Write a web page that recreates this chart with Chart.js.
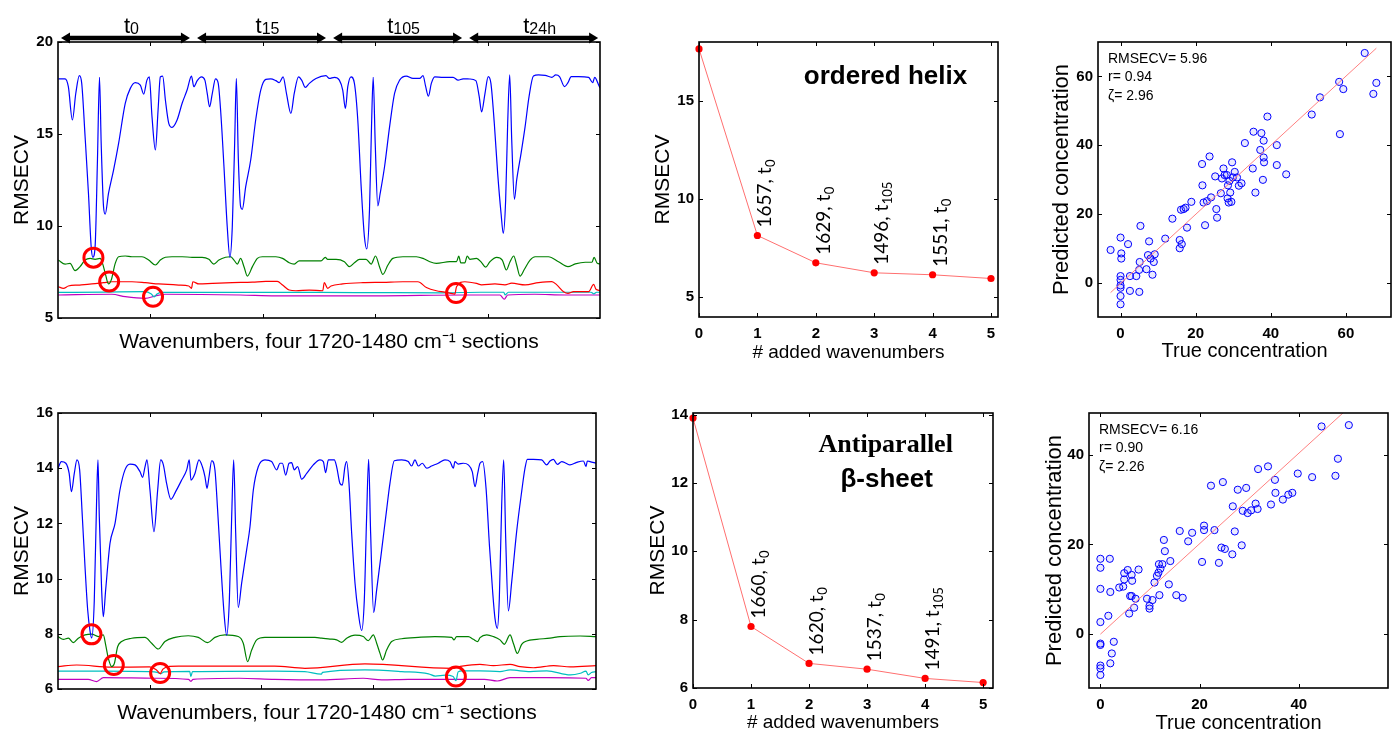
<!DOCTYPE html>
<html>
<head>
<meta charset="utf-8">
<title>RMSECV wavenumber selection</title>
<script src="https://cdn.jsdelivr.net/npm/chart.js@4.4.1/dist/chart.umd.min.js"></script>
<style>
  html, body { margin: 0; padding: 0; background: #fff; }
  body { position: relative; width: 1392px; height: 733px; overflow: hidden; }
  canvas { position: absolute; }
</style>
</head>
<body>
<canvas id="helixScan" width="606" height="360" style="left:0;top:0"></canvas>
<canvas id="sheetScan" width="602" height="343" style="left:0;top:390px"></canvas>
<canvas id="helixSteps" width="364" height="365" style="left:640px;top:0"></canvas>
<canvas id="sheetSteps" width="363" height="343" style="left:636px;top:390px"></canvas>
<canvas id="helixFit" width="352" height="365" style="left:1040px;top:0"></canvas>
<canvas id="sheetFit" width="362" height="343" style="left:1030px;top:390px"></canvas>
<script>
// four concatenated 1720-1480 cm-1 sections, 2 cm-1 steps, indexed along x
const SECTION_START = [18, 139, 260, 381];
const SECTION_POINTS = 121;
const sectionTimes = ['0', '15', '105', '24h'];
const wnIndex = (wn, sec) => SECTION_START[sec] + (1720 - wn) / 2;

// ---- ordered helix: RMSECV vs added wavenumber, one curve per selection round
const helixScan1 = [[18.3,18.0],[24.3,18.0],[27.2,17.57],[30.8,15.76],[33.8,17.2],[37,18.17],[39.1,17.75],[42.1,14.85],[45.1,11.77],[47.5,8.88],[49,8.3],[51,8.88],[53.1,13.6],[54.9,18.08],[56.4,14.5],[58.5,11.05],[60,10.65],[62.9,11.77],[67.4,13.04],[71.9,14.49],[77.8,16.67],[82.3,17.48],[86.7,17.79],[91.2,17.66],[94.2,17.17],[97.1,17.93],[99.2,18.1],[101.6,15.94],[104.6,14.13],[107,16.3],[109,18.1],[111.1,18.15],[113.5,16.85],[116.5,15.58],[119.4,15.36],[123.9,15.76],[128.4,16.67],[132.8,17.39],[136.7,18.15],[138.8,17.57],[141.8,17.9],[145.6,18.1],[148.6,17.93],[150.7,17.21],[152.8,16.48],[155.2,17.2],[158.1,18.0],[160.5,17.75],[162.6,16.3],[165.6,13.22],[168.5,9.96],[170.9,8.3],[173,9.96],[175.1,14.5],[176.6,18.02],[178.4,13.6],[180.4,11.05],[181.9,10.9],[184.9,12.13],[189.4,13.6],[193.8,15.76],[198.3,17.39],[202.8,17.97],[207.2,18.0],[211.7,17.9],[214.7,17.79],[218.2,18.11],[221.2,17.2],[225.1,16.12],[228.1,17.21],[231.9,18.1],[234.9,17.9],[237.9,17.53],[241.5,17.75],[247.4,18.02],[256.3,18.17],[259.3,18.02],[263.8,18.08],[268.2,17.93],[271.2,17.39],[273.6,16.39],[275.7,17.57],[278.6,18.11],[281.6,17.75],[284.6,15.76],[287.6,12.14],[290.5,9.42],[292.6,8.75],[295,10.87],[296.8,15.4],[298.3,18.08],[300.1,14.49],[302.4,11.09],[304.5,11.77],[308.4,13.22],[312.9,15.4],[317.3,17.21],[321.8,17.93],[327.7,18.15],[333.7,18.02],[339.6,18.02],[342.6,18.17],[345,17.57],[347.4,17.06],[350,17.75],[353,18.11],[360.4,18.08],[369.4,18.08],[373.8,17.93],[378.3,18.0],[384.2,17.99],[389.6,17.9],[392.6,17.03],[394.7,16.2],[397.7,17.2],[400.6,18.12],[403,17.75],[406,15.58],[409,12.86],[412,10.69],[414,9.6],[416.1,11.41],[417.9,15.58],[419.7,18.21],[421.5,14.67],[423.9,11.45],[425.9,12.5],[429.8,13.95],[433.4,15.4],[436.9,17.03],[440.8,18.15],[445.3,18.21],[451.2,18.19],[457.2,18.08],[460.7,18.21],[464,18.12],[468.5,17.57],[471.5,17.79],[474.4,18.12],[481,18.12],[489.9,18.08],[493.5,17.79],[495.3,18.08],[498.8,17.66],[500,17.5]];
const helixScan2 = [[18.3,8.15],[24.3,7.93],[28.7,7.97],[33.2,7.57],[37.6,7.79],[42.1,8.15],[46.6,8.24],[51,8.19],[55.5,8.24],[57.6,7.97],[60,7.43],[62.9,6.85],[65.3,7.06],[68.9,7.97],[71.9,8.33],[77.8,8.37],[83.8,8.33],[92.7,8.33],[98.6,8.15],[104.6,7.88],[109,8.15],[113.5,8.3],[119.4,8.33],[128.4,8.33],[137.3,8.3],[146.2,8.3],[152.2,8.19],[156.6,7.93],[161.1,8.15],[167,8.3],[171.5,8.33],[174.5,8.15],[177.5,7.93],[180.4,8.24],[183.4,7.79],[186.4,7.28],[190.9,7.79],[195.3,8.24],[199.8,8.33],[208.7,8.33],[211.7,8.33],[217.7,8.24],[223.6,8.0],[228.1,7.93],[232.5,8.11],[241.5,8.11],[251.9,8.11],[255.7,8.3],[257.8,8.19],[265.3,8.19],[272.7,8.06],[277.2,7.79],[281.6,8.0],[286.1,8.19],[292,8.19],[296.5,7.93],[300.4,8.37],[303.9,7.79],[306.9,7.37],[311.4,7.88],[315.8,8.24],[324.8,8.33],[336.7,8.33],[342.6,8.24],[348.6,8.06],[354.5,7.97],[366.4,8.06],[372.4,8.06],[374.4,8.37],[376.2,8.0],[379.8,8.0],[381.9,8.37],[384.3,8.19],[390.2,8.24],[394.7,8.01],[398.3,7.76],[402.1,8.06],[408.1,8.3],[413.1,8.15],[416.7,7.61],[420,8.06],[423.3,8.37],[425.9,7.88],[428.9,7.28],[432.8,7.65],[437.8,8.15],[442.3,8.33],[454.2,8.33],[463.1,8.06],[471.5,7.79],[478,7.94],[486.9,8.03],[492.9,8.03],[494.7,8.3],[497.6,7.97],[500,7.94]];
const helixScan3 = [[18.3,6.7],[22.8,6.61],[27.2,6.74],[36.2,6.79],[48.1,6.85],[58.5,6.92],[65.9,6.97],[83.8,6.97],[95.7,6.92],[107.6,6.85],[125.4,6.79],[134.3,6.74],[136.7,6.61],[137.9,6.97],[143.3,6.85],[155.2,6.88],[173,6.92],[190.9,6.95],[202.8,6.99],[213,6.99],[217.7,6.79],[223.6,6.52],[229.6,6.48],[241.5,6.52],[253.4,6.48],[254.8,6.92],[257.8,6.61],[260.8,6.74],[271.2,6.85],[289.1,6.92],[306.9,6.94],[324.8,6.97],[338.1,6.97],[345.6,6.66],[354.5,6.48],[361.9,6.41],[370.9,6.3],[372.4,6.7],[379.8,6.97],[390.2,6.88],[394.7,6.8],[406.6,6.85],[415.5,6.8],[421.5,6.89],[433.4,6.8],[445.3,6.92],[457.2,6.98],[461.6,6.8],[467.6,6.43],[471.5,6.34],[476.5,6.43],[489.9,6.43],[494.4,6.83],[496.4,6.56],[500,6.49]];
const helixScan4 = [[18.3,6.39],[60,6.41],[95,6.43],[101,6.3],[103.5,6.15],[106,6.3],[110,6.39],[200,6.39],[250,6.39],[300,6.38],[360,6.37],[394,6.4],[414.5,6.4],[415.5,6.25],[418.5,6.4],[492,6.4],[494.5,6.31],[497,6.4],[500,6.4]];
const helixScan5 = [[18.3,6.25],[65.9,6.29],[77.8,6.16],[95.7,6.07],[104.6,6.2],[113.5,6.29],[180,6.25],[211.7,6.2],[300,6.2],[380,6.25],[394.7,6.25],[411,6.25],[414.9,6.02],[417.9,6.25],[442,6.29],[469,6.25],[500,6.25]];

// ---- antiparallel beta-sheet
const sheetScan1 = [[18,14.0],[21,14.24],[25,14.18],[28,13.81],[30,13.15],[32.6,13.81],[35,14.3],[37.4,13.94],[39.8,12.24],[42.2,10.43],[44.6,8.86],[46.7,8.1],[48.2,7.85],[50.5,9.2],[52.6,12.85],[53.8,14.3],[55,12.24],[57.1,9.59],[58.6,8.62],[60.7,9.59],[64.6,11.28],[69.1,12.0],[73.5,13.21],[78,13.94],[82.5,14.15],[87,14.12],[91.5,13.87],[93.8,13.67],[96,14.06],[97.7,14.3],[100.4,13.21],[104,11.7],[107.3,13.21],[110,14.3],[112.4,14.12],[115.3,13.45],[119.2,12.87],[123.4,13.15],[128.8,13.57],[133.3,13.94],[135.6,14.3],[137.1,13.57],[140.7,13.81],[144.3,14.3],[147.3,14.06],[149.7,13.69],[151.5,13.27],[153.3,13.69],[155.7,14.27],[158.6,13.94],[161,12.49],[164,10.43],[167,8.62],[169.1,7.95],[171.5,9.2],[173.6,12.24],[175.4,14.3],[177.2,11.64],[179.5,8.95],[182.5,9.83],[187,11.04],[190,11.88],[193,13.21],[197.5,14.06],[203.4,14.3],[209.4,14.24],[213.9,13.94],[216.9,14.18],[219,14.18],[222,13.75],[225,14.18],[227.3,14.2],[229.7,13.94],[232.7,14.06],[236.3,13.6],[240.8,13.81],[246.7,14.12],[252.7,14.3],[255.7,14.24],[257.8,13.84],[260.2,14.3],[265.5,14.3],[267.6,14.06],[270.6,13.45],[272.7,13.39],[275.1,14.06],[276.6,14.24],[278.7,13.45],[281.1,11.64],[284.1,9.83],[287.1,8.74],[290,8.12],[292.4,9.2],[294.5,12.24],[296.3,14.32],[298.1,11.64],[300.8,8.77],[303.5,9.59],[308,11.04],[312.4,12.49],[315.4,13.45],[319.3,14.27],[325.9,14.3],[331.8,14.24],[334.8,14.08],[337.8,14.3],[340.8,14.08],[344.4,14.18],[348.3,14.0],[352.7,14.08],[358.7,14.18],[364.7,14.3],[369.2,14.24],[372.2,14.0],[373.6,14.24],[376.6,14.15],[381.1,14.18],[385.6,14.12],[389.2,13.87],[391.6,13.33],[394,13.81],[396.1,14.18],[398.5,14.24],[401.5,13.27],[404.5,11.22],[407.4,9.53],[409.5,8.56],[411.6,8.2],[413.4,9.29],[415.5,12.67],[417.3,14.3],[419.1,11.46],[421.5,8.83],[424.5,9.89],[428.9,11.7],[433.4,13.15],[436.4,14.0],[438.5,14.32],[443.9,14.32],[451.3,14.3],[455.8,14.12],[458.8,14.26],[461.8,14.32],[465.4,14.14],[469.3,14.24],[473.1,14.18],[476.7,14.12],[482.7,14.21],[488.7,14.26],[491.1,14.06],[492.2,14.26],[494.6,14.24],[500,14.18]];
const sheetScan2 = [[18,7.9],[22.8,7.8],[27.3,7.84],[31.7,7.68],[36.2,7.84],[42.2,7.96],[48.2,7.99],[54.1,7.9],[58.6,7.96],[60.7,7.6],[63.1,7.11],[66.1,6.81],[68.5,6.93],[71.4,7.53],[75,7.72],[84,7.84],[95.9,7.87],[101.9,7.66],[107.9,7.45],[113.8,7.72],[122.8,7.87],[134.7,7.93],[143.7,7.87],[152.1,7.68],[158.6,7.87],[167.6,7.96],[179.5,7.9],[184,7.66],[187.9,6.99],[191.5,7.41],[196,7.78],[203.4,7.87],[216.9,7.87],[248.2,7.87],[254.2,7.84],[261.7,7.81],[267.6,7.78],[272.1,7.69],[276.6,7.84],[284.1,7.95],[291.5,7.9],[296,7.75],[300.5,7.96],[303.5,7.66],[306.5,7.29],[308.8,7.05],[312.4,7.41],[316.9,7.72],[325.9,7.82],[340.8,7.87],[355.7,7.9],[370.7,7.87],[372.8,7.78],[375.1,7.9],[385.6,7.9],[390.1,7.8],[394,7.72],[396.1,7.86],[402.1,7.96],[408,7.9],[414,7.78],[417.9,7.62],[423,7.96],[426,7.65],[429.5,7.29],[433.4,7.62],[437.9,7.74],[446.9,7.8],[458.8,7.84],[467.8,7.9],[485.7,7.92],[500,7.9]];
const sheetScan3 = [[18,6.81],[34.7,6.87],[66,6.79],[100,6.8],[106,6.7],[109.5,6.56],[112,6.72],[118,6.82],[125.8,6.83],[212,6.83],[239.3,6.75],[293,6.91],[370.7,6.75],[380,6.83],[396,6.89],[408,6.85],[423,6.89],[432,6.81],[444,6.77],[462,6.85],[477,6.8],[500,6.85]];
const sheetScan4 = [[18,6.65],[60,6.65],[100,6.63],[107,6.6],[110,6.55],[113,6.62],[136,6.64],[137,6.45],[138.5,6.63],[212,6.65],[239,6.63],[254,6.54],[255,6.6],[293,6.69],[326,6.63],[350,6.55],[356,6.47],[365,6.5],[372,6.45],[374.5,6.3],[376.5,6.62],[380,6.66],[396,6.66],[414,6.63],[423,6.69],[441,6.63],[456,6.66],[477,6.51],[486,6.57],[491,6.65],[493,6.51],[496,6.6],[500,6.63]];
const sheetScan5 = [[18,6.35],[45,6.35],[52.6,6.27],[58.6,6.41],[104.9,6.39],[135,6.35],[137,6.28],[139,6.35],[180,6.39],[212,6.35],[254,6.33],[291.5,6.39],[308,6.33],[332,6.35],[400,6.35],[411.5,6.29],[423,6.41],[456,6.41],[491,6.39],[493,6.31],[496,6.41],[500,6.41]];

const scanColors = ['#0000ff', '#008000', '#ff0000', '#00bfbf', '#bf00bf'];

// selected wavenumbers (section index) and where they are ringed on the scan plots
const helixPickWn = [1657, 1629, 1496, 1551];
const helixPickSec = [0, 0, 2, 0];
const helixPickY = [8.28, 6.98, 6.36, 6.15];
const sheetPickWn = [1660, 1620, 1537, 1491];
const sheetPickSec = [0, 0, 0, 2];
const sheetPickY = [7.98, 6.87, 6.58, 6.45];

// RMSECV after each added wavenumber
const addedCount = [0, 1, 2, 3, 4, 5];
const helixRmsecv = [17.65, 8.15, 6.76, 6.25, 6.15, 5.96];
const sheetRmsecv = [13.9, 7.8, 6.72, 6.55, 6.28, 6.16];

// cross-validated predictions with the five wavenumbers
const helixTrue = [-2.65,0,0.2,0.2,0,0,0,0,0,0,2.0,2.5,2.5,4.2,4.95,5.0,5.1,5.3,6.9,7.3,7.6,8.0,8.5,8.85,9.1,11.9,13.8,15.75,15.75,16.3,16.1,16.8,17.3,17.7,18.85,21.8,22.1,22.5,23.0,23.7,21.7,24.1,25.2,25.5,25.7,26.7,27.0,27.4,27.7,28.3,28.6,28.5,28.8,29.0,29.2,29.5,29.7,29.9,30.4,31.0,31.5,32.2,33.1,35.2,35.4,35.9,37.2,37.5,38.1,38.1,38.2,37.9,39.1,41.6,41.6,44.1,50.9,53.1,58.2,58.4,59.3,65.0,67.3,68.1];
const helixPred = [9.5,13.1,8.5,7.0,1.9,0.8,-1.5,-3.9,-6.3,-0.8,11.2,1.9,-2.4,1.9,3.7,-2.7,6.0,16.5,3.9,8.0,12.0,7.0,2.3,6.0,8.25,12.8,18.6,12.4,10.0,11.2,21.2,21.4,21.8,16.0,23.5,28.3,23.3,16.7,23.7,36.7,34.5,24.8,30.9,21.4,18.9,26.0,30.3,33.2,31.3,31.3,28.3,24.5,23.3,29.6,26.2,23.5,35.0,30.6,32.2,30.6,28.2,28.9,40.6,33.2,43.9,26.2,38.6,43.5,41.3,36.4,35.0,29.9,48.3,40.0,34.2,31.5,48.9,53.9,58.4,43.2,56.3,66.8,54.9,58.1];
const helixFitLine = [[-2.65, -2.9], [68.1, 68.2]];
const helixStats = ['RMSECV= 5.96', 'r= 0.94', 'ζ= 2.96'];

const sheetTrue = [0,0,0,0,0,0,0,0,0,1.9,2.0,1.6,2.0,2.3,2.7,3.8,4.6,4.8,4.8,5.5,5.8,6.0,6.3,6.3,6.4,6.8,7.1,7.7,9.4,9.9,9.9,10.5,10.9,11.4,11.7,11.8,11.9,12.1,12.5,12.8,13.0,13.8,14.1,15.3,16.6,16.0,17.7,18.5,20.5,20.9,20.9,22.3,23.0,23.9,24.4,24.7,25.1,26.6,26.7,27.1,27.7,28.5,29.4,28.7,29.7,30.4,31.3,31.7,31.8,33.8,34.4,35.2,35.3,36.8,37.9,38.7,39.8,42.7,44.6,47.4,47.9,50.1];
const sheetPred = [16.8,14.8,10.1,2.7,-2.1,-2.4,-7.0,-7.6,-9.1,16.8,9.4,4.1,-6.5,-4.3,-1.7,10.4,10.6,12.2,13.6,14.3,4.6,8.5,8.5,13.2,11.9,5.9,7.9,14.4,7.9,6.3,5.7,7.6,11.5,13.0,13.7,15.6,8.7,14.6,15.6,21.0,18.5,11.1,16.3,8.7,8.1,23.0,20.7,22.6,16.1,24.2,23.2,33.1,23.2,15.9,19.3,33.9,19.0,17.8,28.5,22.9,32.2,19.8,32.6,27.5,27.0,27.6,29.1,27.9,36.8,37.4,28.9,34.4,31.5,30.0,31.1,31.5,35.8,35.0,46.3,35.3,39.1,46.6];
const sheetFitLine = [[0, 0], [50, 50.4]];
const sheetStats = ['RMSECV= 6.16', 'r= 0.90', 'ζ= 2.26'];

// tick values
const scanXTicks = [100, 200, 300, 400];
const helixScanYTicks = [5, 10, 15, 20];
const sheetScanYTicks = [6, 8, 10, 12, 14, 16];
const stepXTicks = [0, 1, 2, 3, 4, 5];
const helixStepYTicks = [5, 10, 15];
const sheetStepYTicks = [6, 8, 10, 12, 14];
const helixConcTicks = [0, 20, 40, 60];
const sheetConcTicks = [0, 20, 40];

const FONT = "'Liberation Sans', Arial, Helvetica, sans-serif";
Chart.defaults.font.family = FONT;
Chart.defaults.color = '#000';

const toPoints = pairs => pairs.map(([x, y]) => ({x, y}));

// matlab-style frame with inward ticks on all four sides
const boxAxes = {
  id: 'boxAxes',
  afterDraw(chart) {
    const {ctx, chartArea: a} = chart;
    const {x, y} = chart.scales;
    const len = 4;
    ctx.save();
    ctx.strokeStyle = '#000';
    ctx.lineWidth = 1;
    ctx.beginPath();
    x.ticks.forEach(t => {
      const px = Math.round(x.getPixelForValue(t.value)) + 0.5;
      ctx.moveTo(px, a.bottom); ctx.lineTo(px, a.bottom - len);
      ctx.moveTo(px, a.top); ctx.lineTo(px, a.top + len);
    });
    y.ticks.forEach(t => {
      const py = Math.round(y.getPixelForValue(t.value)) + 0.5;
      ctx.moveTo(a.left, py); ctx.lineTo(a.left + len, py);
      ctx.moveTo(a.right, py); ctx.lineTo(a.right - len, py);
    });
    ctx.stroke();
    ctx.lineWidth = 1.6;
    ctx.strokeRect(a.left, a.top, a.right - a.left, a.bottom - a.top);
    ctx.restore();
  }
};

// double arrows + time labels above each spectral section
const sectionHeader = {
  id: 'sectionHeader',
  afterDraw(chart, args, opts) {
    if (!opts.show) return;
    const {ctx, chartArea: a} = chart;
    const x = chart.scales.x;
    const yA = a.top - 4;
    const head = 9, half = 5.5;
    ctx.save();
    ctx.fillStyle = '#000';
    SECTION_START.forEach((start, i) => {
      const x0 = x.getPixelForValue(start) + 3;
      const x1 = x.getPixelForValue(start + SECTION_POINTS - 1) - 3;
      ctx.fillRect(x0 + head - 1, yA - 2.25, x1 - x0 - 2 * head + 2, 4.5);
      ctx.beginPath();
      ctx.moveTo(x0, yA); ctx.lineTo(x0 + head, yA - half); ctx.lineTo(x0 + head, yA + half);
      ctx.closePath(); ctx.fill();
      ctx.beginPath();
      ctx.moveTo(x1, yA); ctx.lineTo(x1 - head, yA - half); ctx.lineTo(x1 - head, yA + half);
      ctx.closePath(); ctx.fill();

      const cx = (x0 + x1) / 2 + 6;
      ctx.font = `22px ${FONT}`;
      const wT = ctx.measureText('t').width;
      ctx.font = `16px ${FONT}`;
      const wS = ctx.measureText(sectionTimes[i]).width;
      const left = cx - (wT + wS) / 2;
      ctx.textAlign = 'left';
      ctx.textBaseline = 'alphabetic';
      ctx.font = `22px ${FONT}`;
      ctx.fillText('t', left, a.top - 9);
      ctx.font = `16px ${FONT}`;
      ctx.fillText(sectionTimes[i], left + wT, a.top - 8);
    });
    ctx.restore();
  }
};

// vertical "wavenumber, t_x" labels over the selection-step points
const pickLabels = {
  id: 'pickLabels',
  afterDatasetsDraw(chart, args, opts) {
    if (!opts.wn) return;
    const {ctx} = chart;
    const pts = chart.getDatasetMeta(0).data;
    ctx.save();
    ctx.fillStyle = '#000';
    ctx.textBaseline = 'alphabetic';
    ctx.textAlign = 'left';
    opts.wn.forEach((wn, i) => {
      const p = pts[i + 1];
      const main = `${wn}, t`;
      ctx.save();
      ctx.translate(p.x + 14, p.y - 8);
      ctx.rotate(-Math.PI / 2);
      ctx.font = `19px Lato, ${FONT}`;
      ctx.fillText(main, 0, 0);
      const w = ctx.measureText(main).width;
      ctx.font = `13px Lato, ${FONT}`;
      ctx.fillText(sectionTimes[opts.sec[i]], w + 0.5, 4);
      ctx.restore();
    });
    ctx.restore();
  }
};

const panelTitle = {
  id: 'panelTitle',
  afterDraw(chart, args, opts) {
    if (!opts.lines) return;
    const {ctx, chartArea: a} = chart;
    ctx.save();
    ctx.fillStyle = '#000';
    ctx.textAlign = 'center';
    ctx.textBaseline = 'alphabetic';
    opts.lines.forEach(l => {
      ctx.font = l.font;
      ctx.fillText(l.text, a.left + l.dx, a.top + l.dy);
    });
    ctx.restore();
  }
};

const statsBox = {
  id: 'statsBox',
  afterDraw(chart, args, opts) {
    if (!opts.lines) return;
    const {ctx, chartArea: a} = chart;
    ctx.save();
    ctx.fillStyle = '#000';
    ctx.textAlign = 'left';
    ctx.textBaseline = 'alphabetic';
    ctx.font = `14px ${FONT}`;
    opts.lines.forEach((t, i) => ctx.fillText(t, a.left + 10, a.top + 20.5 + i * 18.7));
    ctx.restore();
  }
};

function xAxis(min, max, ticks, height, title, titleSize, titlePad, showLabels = true) {
  return {
    type: 'linear', position: 'bottom', min, max,
    afterBuildTicks: s => { s.ticks = ticks.map(value => ({value})); },
    afterFit: s => { s.height = height; },
    grid: {display: false, drawTicks: false},
    border: {display: false},
    ticks: {display: showLabels, padding: 8, color: '#000', font: {size: 15, weight: 'bold'}},
    title: {display: true, text: title, color: '#000',
            font: {size: titleSize, lineHeight: 1}, padding: {top: 0, bottom: titlePad}}
  };
}

function yAxis(min, max, ticks, width, title, titleSize, titlePad) {
  return {
    type: 'linear', position: 'left', min, max,
    afterBuildTicks: s => { s.ticks = ticks.map(value => ({value})); },
    afterFit: s => { s.width = width; },
    grid: {display: false, drawTicks: false},
    border: {display: false},
    ticks: {padding: 5, color: '#000', font: {size: 15, weight: 'bold'}},
    title: {display: true, text: title, color: '#000',
            font: {size: titleSize, lineHeight: 1}, padding: {top: titlePad, bottom: 0}}
  };
}

function baseOptions(padTop, padRight) {
  return {
    responsive: false,
    animation: false,
    events: [],
    layout: {autoPadding: false, padding: {top: padTop, right: padRight, left: 0, bottom: 0}},
    elements: {line: {tension: 0}}
  };
}

const hidden = {legend: {display: false}, tooltip: {enabled: false}};

function scanChart(id, scans, pickWn, pickSec, pickY, y, box) {
  const rings = {
    data: pickWn.map((wn, i) => ({x: wnIndex(wn, pickSec[i]), y: pickY[i]})),
    showLine: false,
    pointRadius: 9.5,
    pointBorderWidth: 3,
    pointBorderColor: '#ff0000',
    pointBackgroundColor: 'rgba(0,0,0,0)'
  };
  const curves = scans.map((s, i) => ({
    data: toPoints(s),
    borderColor: scanColors[i],
    borderWidth: 1.2,
    pointRadius: 0,
    cubicInterpolationMode: 'monotone'
  }));
  return new Chart(document.getElementById(id), {
    type: 'line',
    data: {datasets: [rings, ...curves]},
    options: {
      ...baseOptions(box.padTop, box.padRight),
      scales: {
        x: xAxis(18, 500, scanXTicks, box.xHeight, 'Wavenumbers, four 1720-1480 cm⁻¹ sections', 21, box.xTitlePad, false),
        y: yAxis(y.min, y.max, y.ticks, 58, 'RMSECV', 21, 11.5)
      },
      plugins: {...hidden, sectionHeader: {show: box.header}}
    },
    plugins: [boxAxes, sectionHeader]
  });
}

function stepChart(id, values, pickWn, pickSec, y, xMax, titleLines, box) {
  return new Chart(document.getElementById(id), {
    type: 'line',
    data: {
      datasets: [{
        data: addedCount.map((n, i) => ({x: n, y: values[i]})),
        borderColor: '#ff6f6f',
        borderWidth: 1,
        pointRadius: 3.6,
        pointBorderWidth: 0,
        pointBackgroundColor: '#ff0000',
        clip: false
      }]
    },
    options: {
      ...baseOptions(box.padTop, 6),
      scales: {
        x: xAxis(0, xMax, stepXTicks, box.xHeight, '# added wavenumbers', 19, box.xTitlePad),
        y: yAxis(y.min, y.max, y.ticks, box.yWidth, 'RMSECV', 21, box.yTitlePad)
      },
      plugins: {...hidden, pickLabels: {wn: pickWn, sec: pickSec}, panelTitle: {lines: titleLines}}
    },
    plugins: [boxAxes, pickLabels, panelTitle]
  });
}

function fitChart(id, trueVals, predVals, fitLine, stats, x, y, box) {
  return new Chart(document.getElementById(id), {
    type: 'scatter',
    data: {
      datasets: [{
        data: toPoints(fitLine),
        showLine: true,
        borderColor: '#ff8080',
        borderWidth: 1,
        pointRadius: 0
      }, {
        data: trueVals.map((t, i) => ({x: t, y: predVals[i]})),
        pointRadius: 3.6,
        pointBorderWidth: 1,
        pointBorderColor: '#0000ff',
        pointBackgroundColor: 'rgba(70,70,255,0.12)'
      }]
    },
    options: {
      ...baseOptions(box.padTop, box.padRight),
      scales: {
        x: xAxis(x.min, x.max, x.ticks, box.xHeight, 'True concentration', 20, box.xTitlePad),
        y: yAxis(y.min, y.max, y.ticks, box.yWidth, 'Predicted concentration', 22, box.yTitlePad)
      },
      plugins: {...hidden, statsBox: {lines: stats}}
    },
    plugins: [boxAxes, statsBox]
  });
}

scanChart('helixScan', [helixScan1, helixScan2, helixScan3, helixScan4, helixScan5],
  helixPickWn, helixPickSec, helixPickY,
  {min: 5, max: 20, ticks: helixScanYTicks},
  {padTop: 42, padRight: 6, xHeight: 42, xTitlePad: 7.5, header: true});

scanChart('sheetScan', [sheetScan1, sheetScan2, sheetScan3, sheetScan4, sheetScan5],
  sheetPickWn, sheetPickSec, sheetPickY,
  {min: 6, max: 16, ticks: sheetScanYTicks},
  {padTop: 23, padRight: 6, xHeight: 44, xTitlePad: 9.5, header: false});

stepChart('helixSteps', helixRmsecv, helixPickWn, helixPickSec,
  {min: 4, max: 18, ticks: helixStepYTicks}, 5.12,
  [{text: 'ordered helix', font: `bold 26px ${FONT}`, dx: 186.5, dy: 42}],
  {padTop: 42, xHeight: 48, xTitlePad: 2.5, yWidth: 59, yTitlePad: 12.5});

stepChart('sheetSteps', sheetRmsecv, sheetPickWn, sheetPickSec,
  {min: 6, max: 14.05, ticks: sheetStepYTicks}, 5.17,
  [{text: 'Antiparallel', font: "bold 26px 'Liberation Serif', 'Times New Roman', serif", dx: 192.7, dy: 39},
   {text: 'β-sheet', font: `bold 26px ${FONT}`, dx: 193.7, dy: 74}],
  {padTop: 23, xHeight: 45, xTitlePad: 0.8, yWidth: 57, yTitlePad: 11.5});

fitChart('helixFit', helixTrue, helixPred, helixFitLine, helixStats,
  {min: -6, max: 72, ticks: helixConcTicks},
  {min: -10, max: 70, ticks: helixConcTicks},
  {padTop: 42, padRight: 1, xHeight: 48, xTitlePad: 3.3, yWidth: 58, yTitlePad: 11});

fitChart('sheetFit', sheetTrue, sheetPred, sheetFitLine, sheetStats,
  {min: -2.3, max: 58, ticks: sheetConcTicks},
  {min: -12, max: 49.3, ticks: sheetConcTicks},
  {padTop: 23, padRight: 4, xHeight: 45, xTitlePad: 0, yWidth: 59, yTitlePad: 14});
</script>
</body>
</html>
